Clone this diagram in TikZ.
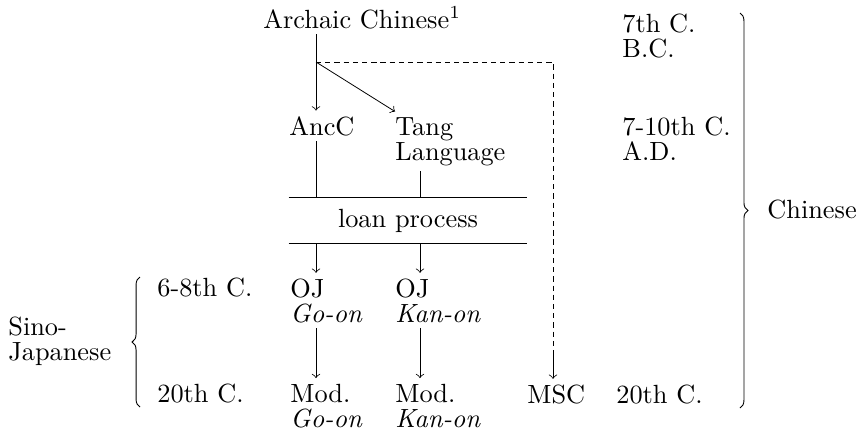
\documentclass[tikz,border=0pt]{standalone}
\usetikzlibrary{decorations.pathreplacing}
\begin{document}
\begin{tikzpicture}[x=0.38pt, y=-0.38pt, line width=0.3pt,
	txt/.style={anchor=base west, inner xsep=0pt, inner ysep=2pt, align=left, font=\fontsize{10}{9.5}\selectfont},
	conn/.style={->},
	brc/.style={decorate, decoration={brace, amplitude=3pt}, line width=0.35pt}]
	\useasboundingbox (0, 0) rectangle (861, 433);
	% Texts and dates (base = last line):
	\node[txt] (arch) at (263, 28) {Archaic Chinese\textsuperscript{1}};
	\node[txt] (date1) at (622, 57) {7th C.\\B.C.};
	\node[txt] (ancc) at (289, 135) {AncC};
	\node[txt] (tang) at (395, 160) {Tang\\Language};
	\node[txt] (date2) at (622, 160) {7-10th C.\\A.D.};
	\node[minimum width=90.4pt, minimum height=17.1pt, inner sep=0pt] (loan) at (408, 220.5) {loan process};
	\node[txt] (chin) at (767, 218) {Chinese};
	\node[txt] (sj) at (8, 360) {Sino-\\Japanese};
	\node[txt] (date3) at (157, 296) {6-8th C.};
	\node[txt] (oja) at (290, 322) {OJ\\\textit{Go-on}};
	\node[txt] (ojb) at (395, 322) {OJ\\\textit{Kan-on}};
	\node[txt] (date4) at (157, 402) {20th C.};
	\node[txt] (moda) at (290, 427) {Mod.\\\textit{Go-on}};
	\node[txt] (modb) at (395, 427) {Mod.\\\textit{Kan-on}};
	\node[txt] (msc) at (527, 403) {MSC};
	\node[txt] (date5) at (616, 403) {20th C.};
	\coordinate (split) at (316, 62);
	\coordinate (colB) at (420, 0);
	\coordinate (dashend) at (553, 350);
	% Connectors:
	\draw (arch.south -| split) -- (split);
	\draw[conn] (split) -- (split |- ancc.north);
	\draw[conn] (split) -- (tang.north west);
	\draw[dash pattern=on 2pt off 1.5pt] (split) -| (dashend);
	\draw[conn] (dashend) -- (dashend |- msc.north);
	\draw (split |- ancc.south) -- (split |- loan.north);
	\draw (colB |- tang.south) -- (colB |- loan.north);
	\draw (loan.north west) -- (loan.north east);
	\draw (loan.south west) -- (loan.south east);
	\draw[conn] (split |- loan.south) -- (split |- oja.north);
	\draw[conn] (colB |- loan.south) -- (colB |- ojb.north);
	\draw[conn] (split |- oja.south) -- (split |- moda.north);
	\draw[conn] (colB |- ojb.south) -- (colB |- modb.north);
	% Braces:
	\draw[brc] (740, 13) -- (740, 408);
	\draw[brc] (140, 407) -- (140, 277);
\end{tikzpicture}
\end{document}
